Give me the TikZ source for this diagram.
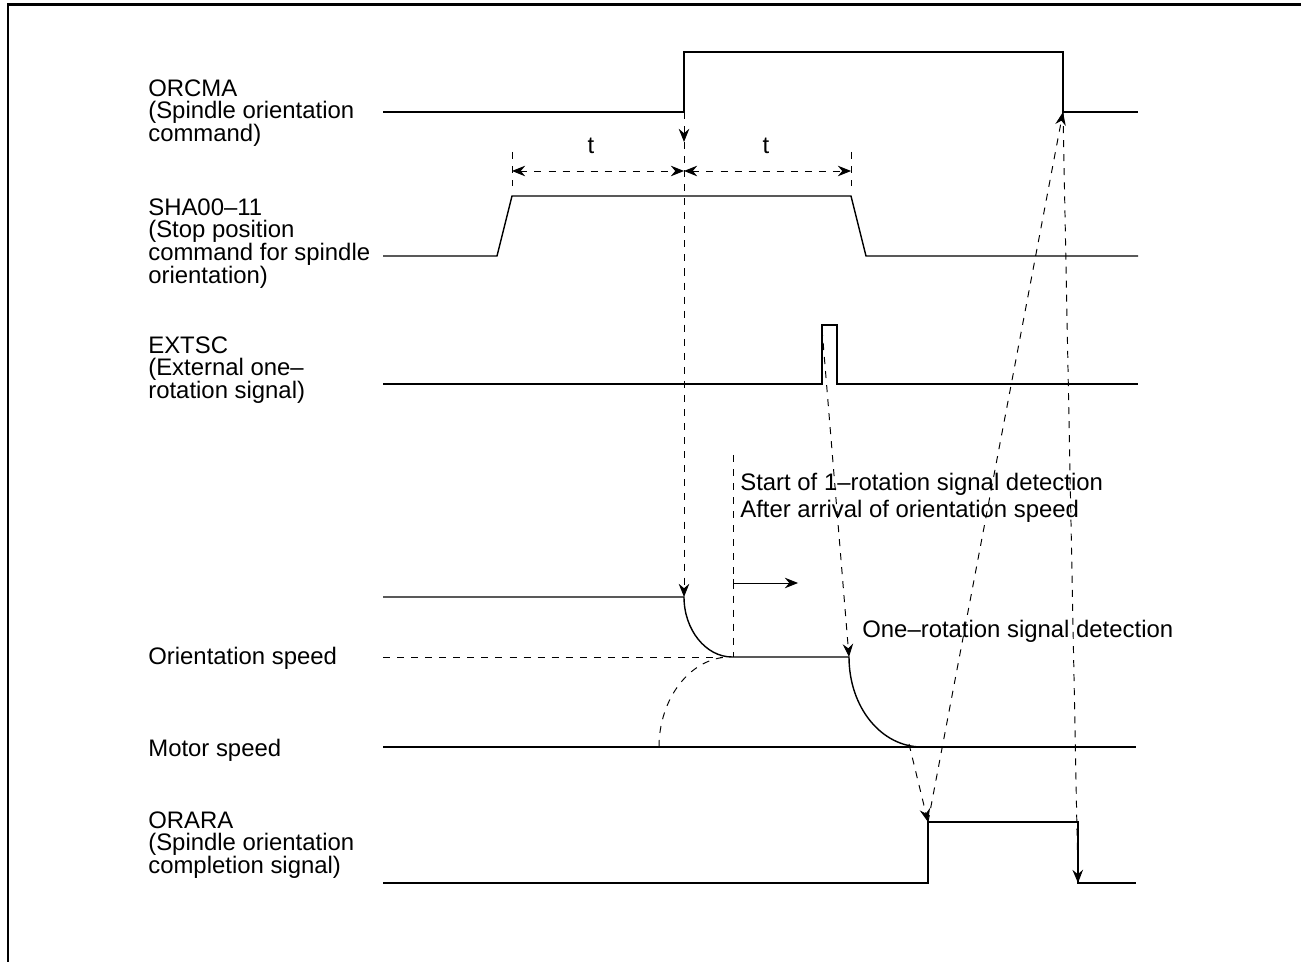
\documentclass[tikz,border=0pt]{standalone}
\usepackage{fontspec}
\setmainfont{Liberation Sans}
\usetikzlibrary{arrows.meta}

\tikzset{
  sig/.style={line width=0.8pt},
  guide/.style={line width=0.55pt, dash pattern=on 4pt off 4pt},
  tip/.style={-{Stealth[length=7.5pt,width=6pt,inset=2.5pt]}},
  twotip/.style={{Stealth[length=7.5pt,width=6pt,inset=2.5pt]}-{Stealth[length=7.5pt,width=6pt,inset=2.5pt]}},
  lbl/.style={anchor=north west, align=left, inner sep=0pt,
    font=\fontsize{13.6}{12.9}\selectfont},
  txt/.style={anchor=base west, inner sep=0pt, font=\fontsize{13.6}{12.9}\selectfont},
}

\begin{document}
\begin{tikzpicture}[x=0.02cm, y=-0.02cm]
        \useasboundingbox (0,0) rectangle (1301,962);
        % frame
        \draw[line width=1.7pt] (8,962) -- (8,5) -- (1301,5);

        % Signal names
        \node[lbl] (orcma) at (148,79) {ORCMA\\(Spindle orientation\\command)};
        \node[lbl] (sha) at (148,198) {SHA00--11\\(Stop position\\command for spindle\\orientation)};
        \node[lbl] (extsc) at (148,336) {EXTSC\\(External one--\\rotation signal)};
        \node[txt] (orspd) at (148,664) {Orientation speed};
        \node[txt] (mtspd) at (148,756) {Motor speed};
        \node[lbl] (orara) at (148,811) {ORARA\\(Spindle orientation\\completion signal)};

        % ORCMA
        \draw[sig] (383,112) -- (684,112) coordinate (orcUp) -- (684,52) -- (1063,52)
            -- (1063,112) coordinate (orcDn) -- (1138,112);

        % SHA00-11
        \draw[sig] (383,256) -- (497,256) -- (512,196) coordinate (shaL)
            -- (851,196) coordinate (shaR) -- (866,256) -- (1138,256);

        % EXTSC
        \draw[sig] (383,384) -- (822,384) -- (822,325) coordinate (extUp)
            -- (837,325) -- (837,384) -- (1138,384);

        % Motor speed
        \draw[sig] (383,597) -- (684,597) coordinate (mtrA)
            .. controls (684,630) and (706,657) .. (732,657) coordinate (mtrB)
            -- (849,657) coordinate (mtrC)
            .. controls (849,707) and (881,747) .. (922,747) coordinate (mtrD);
        \draw[sig] (383,747) -- (1136,747);

        % Orientation speed
        \draw[guide] (383,657) -- (722,657);
        \draw[guide] (659,747) .. controls (659,698) and (691,657) .. (730,657);

        % ORARA
        \draw[sig] (383,883) -- (928,883) -- (928,822) coordinate (oraUp)
            -- (1078,822) -- (1078,883) coordinate (oraDn) -- (1136,883);

        % t intervals
        \draw[guide] (512,152) -- (512,186);
        \draw[guide] (851,152) -- (851,186);
        \coordinate (tmid) at (684,171);
        \draw[guide, twotip] (512,171) -- (tmid);
        \draw[guide, twotip] (tmid) -- (851,171);
        \node (t1) at (591,146) {\fontsize{13.6}{12.9}\selectfont t};
        \node (t2) at (766,146) {\fontsize{13.6}{12.9}\selectfont t};

        % Timing arrows
        \coordinate (orcTip) at (684,142);
        \draw[guide, tip] (orcUp) -- (orcTip);
        \draw[guide, tip] (orcTip) -- (mtrA);
        \draw[guide, tip] (822,329) -- (mtrC);
        \draw[guide, tip] (909,744) -- (oraUp);
        \draw[guide, tip] (oraUp) -- (orcDn);
        \draw[guide, tip] (orcDn) -- (oraDn);

        % Detection start
        \draw[guide] (733,455) -- (733,657);
        \draw[line width=0.55pt, {Bar[width=5pt]}-{Stealth[length=7.5pt,width=6pt,inset=2.5pt]}] (733,583) -- (798,583);
        \node[txt] (det1) at (740,490) {Start of 1--rotation signal detection};
        \node[txt] (det2) at (740,518) {After arrival of orientation speed};
        \node[txt] (det3) at (862,637) {One--rotation signal detection};
\end{tikzpicture}
\end{document}
